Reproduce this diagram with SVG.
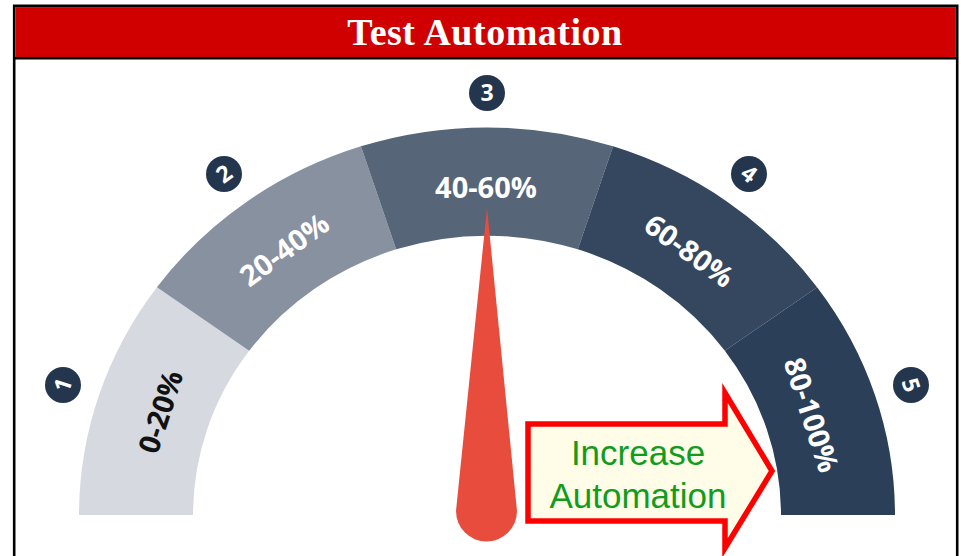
<svg xmlns="http://www.w3.org/2000/svg" width="961" height="556" viewBox="0 0 961 556">
<style>
.seg-label{font-family:"Open Sans","DejaVu Sans",sans-serif;font-weight:bold;font-size:29px;text-anchor:middle;fill:#ffffff}
.num{font-family:"Open Sans","DejaVu Sans",sans-serif;font-weight:bold;font-size:23px;text-anchor:middle;fill:#ffffff}
.badge{fill:#24364d}
.arrow-text{font-family:"Liberation Sans",Arial,sans-serif;font-size:35px;text-anchor:middle;fill:#129c1e}
</style>
<rect x="0" y="0" width="961" height="556" fill="#ffffff"/>
<g id="frame">
<rect x="14.2" y="5.8" width="943" height="560" fill="#ffffff" stroke="#000000" stroke-width="2.6"/>
<rect x="15.5" y="7.1" width="940.4" height="50" fill="#d00000"/>
<line x1="14.2" y1="58.2" x2="957.2" y2="58.2" stroke="#000000" stroke-width="2.6"/>
<text x="485" y="45" font-family="Liberation Serif,'Times New Roman',serif" font-size="38" font-weight="bold" letter-spacing="0.5" text-anchor="middle" fill="#ffffff">Test Automation</text>
</g>
<g id="gauge">
<g id="seg1">
<path d="M79,515 A408,387.6 0 0 1 156.92,287.17 L249.15,350.83 A294,279.3 0 0 0 193,515 Z" fill="#d6d9df"/>
<text class="seg-label" style="fill:#111111" transform="translate(161,412) rotate(-72)" y="10">0-20%</text>
</g>
<g id="seg2">
<path d="M156.92,287.17 A408,387.6 0 0 1 360.92,146.37 L396.15,249.37 A294,279.3 0 0 0 249.15,350.83 Z" fill="#8891a0"/>
<text class="seg-label" transform="translate(284.5,250) rotate(-36)" y="10">20-40%</text>
</g>
<g id="seg3">
<path d="M360.92,146.37 A408,387.6 0 0 1 613.08,146.37 L577.85,249.37 A294,279.3 0 0 0 396.15,249.37 Z" fill="#566577"/>
<text class="seg-label" transform="translate(486,188)" y="10">40-60%</text>
</g>
<g id="seg4">
<path d="M613.08,146.37 A408,387.6 0 0 1 817.08,287.17 L724.85,350.83 A294,279.3 0 0 0 577.85,249.37 Z" fill="#34475e"/>
<text class="seg-label" transform="translate(689,251) rotate(36)" y="10">60-80%</text>
</g>
<g id="seg5">
<path d="M817.08,287.17 A408,387.6 0 0 1 895,515 L781,515 A294,279.3 0 0 0 724.85,350.83 Z" fill="#2b3f59"/>
<text class="seg-label" transform="translate(811,415) rotate(72)" y="10">80-100%</text>
</g>
</g>
<g id="badge1"><circle class="badge" cx="63" cy="385" r="18"/><text class="num" transform="translate(63,385) rotate(-72)" y="8">1</text></g>
<g id="badge2"><circle class="badge" cx="224" cy="174" r="18"/><text class="num" transform="translate(224,174) rotate(-36)" y="8">2</text></g>
<g id="badge3"><circle class="badge" cx="487" cy="93" r="18"/><text class="num" transform="translate(487,93)" y="8">3</text></g>
<g id="badge4"><circle class="badge" cx="749" cy="174" r="18"/><text class="num" transform="translate(749,174) rotate(36)" y="8">4</text></g>
<g id="badge5"><circle class="badge" cx="911" cy="385" r="18"/><text class="num" transform="translate(911,385) rotate(72)" y="8">5</text></g>
<g id="needle">
<path d="M487,208 L456,511 A30.5,30.5 0 0 0 517,511 Z" fill="#e84c3d"/>
</g>
<g id="arrow">
<polygon points="528,424 725,424 725,393 772,471 725,548 725,521 528,521" fill="#fffde8" stroke="#ff0000" stroke-width="5.5" stroke-linejoin="miter" stroke-miterlimit="10"/>
<text class="arrow-text" x="638" y="465">Increase</text>
<text class="arrow-text" x="638" y="508">Automation</text>
</g>
<g id="connectors"/>
</svg>
